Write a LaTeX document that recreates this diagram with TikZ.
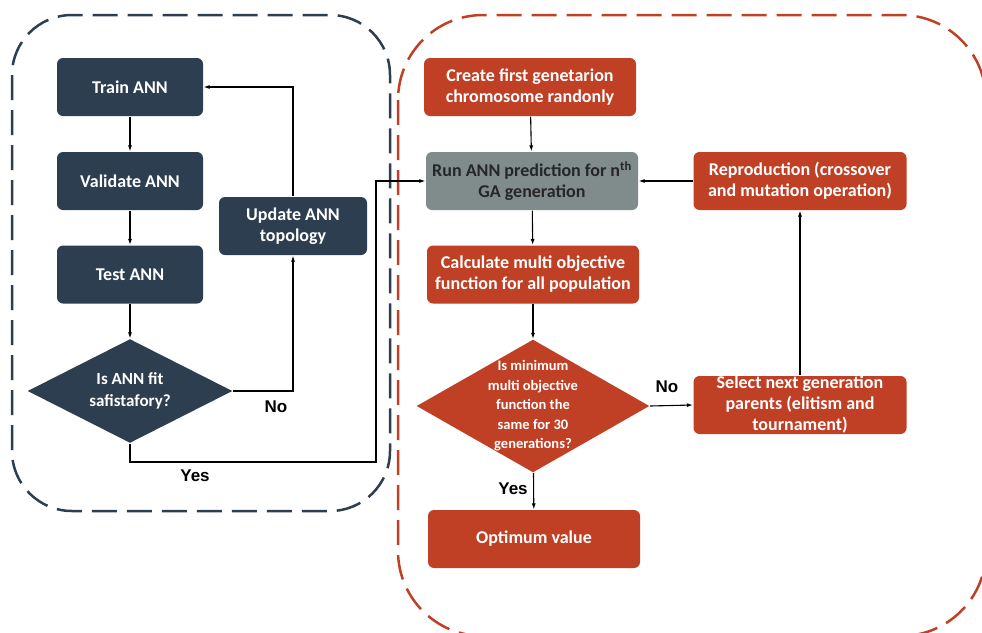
\documentclass[tikz,border=0pt]{standalone}
\usepackage{fontspec}
\setmainfont{Carlito}
\newfontfamily\labelfont{Liberation Sans}
\usepackage{xcolor}
\usetikzlibrary{arrows.meta}
\usetikzlibrary{positioning}
\usetikzlibrary{shapes.geometric}
\definecolor{ann}{HTML}{2D3E50}
\definecolor{ga}{HTML}{C04026}
\definecolor{run}{HTML}{808B8C}
\tikzset{
    boite/.style = {rectangle, rounded corners=6pt, align=center, inner sep=0pt,
        minimum width=146pt, minimum height=58pt, text=white,
        font=\fontsize{18}{21}\selectfont\bfseries},
    b1/.style = {fill=ann},
    b2/.style = {fill=ga, minimum width=212pt},
    b3/.style = {fill=run, minimum width=212pt, text=black!85},
    losange/.style = {diamond, inner sep=0pt},
    txt/.style = {text=white, align=center},
    zone/.style = {line width=2.5pt, dash pattern=on 25pt off 10pt, rounded corners=60pt},
    oui/.style = {font=\labelfont\fontsize{17}{20}\selectfont\bfseries},
    >={Latex[length=6pt,width=4pt]}
}

\begin{document}
\begin{tikzpicture}[x=1pt, y=-1pt, line width=1.1pt]
                \useasboundingbox (0,0) rectangle (982,632);
                \clip (0,0) rectangle (982,632);
                % zones
                \draw[zone, ann] (12,15) rectangle (390,511);
                \draw[zone, ga, rounded corners=85pt] (398,15) rectangle (986,636);
                % ANN
                \node (train) [boite, b1] at (130,87) {Train ANN};
                \node (valid) [boite, b1] at (130,181) {Validate ANN};
                \node (test) [boite, b1] at (130,274.5) {Test ANN};
                \node (fit) [losange, fill=ann, minimum width=205pt, minimum height=104pt,
                    label={[txt, font=\fontsize{17}{22}\selectfont\bfseries]center:Is ANN fit\\safistafory?}] at (130,391) {};
                \node (update) [boite, b1, minimum width=148pt] at (293,226) {Update ANN\\topology};
                % GA
                \node (create) [boite, b2] at (530,87) {Create first genetarion\\chromosome randonly};
                \node (run) [boite, b3] at (532,181) {Run ANN prediction for n\textsuperscript{th}\\GA generation};
                \node (repro) [boite, b2, minimum width=213pt] at (800,181) {Reproduction (crossover\\and mutation operation)};
                \node (calc) [boite, b2] at (533,274.5) {Calculate multi objective\\function for all population};
                \node (same) [losange, fill=ga, minimum width=233pt, minimum height=133pt,
                    label={[txt, font=\fontsize{14.5}{19.5}\selectfont\bfseries]center:Is minimum\\multi objective\\function the\\same for 30\\generations?}] at (533,406) {};
                \node (select) [boite, b2, minimum width=213pt] at (800,405) {Select next generation\\parents (elitism and\\tournament)};
                \node (optim) [boite, b2] at (534,539) {Optimum value};
                % fleches
                \foreach \a/\b in {train/valid, valid/test, test/fit, create/run, run/calc, calc/same, same/optim} {
                        \draw[->] (\a) -- (\b);
                    }
                \draw[->] (fit.east) -| (update.south);
                \draw[->] (update.north) |- (train.east);
                \draw[->] (fit.south) |- (376,462) |- (run.west);
                \draw[->] (same.east) -- (select.west);
                \draw[->] (select.north) -- (repro.south);
                \draw[->] (repro.west) -- (run.east);
                % labels
                \node[oui] at (276,407) {No};
                \node[oui] at (195,476) {Yes};
                \node[oui] at (667,387) {No};
                \node[oui] at (513,489) {Yes};
            \end{tikzpicture}
\end{document}
